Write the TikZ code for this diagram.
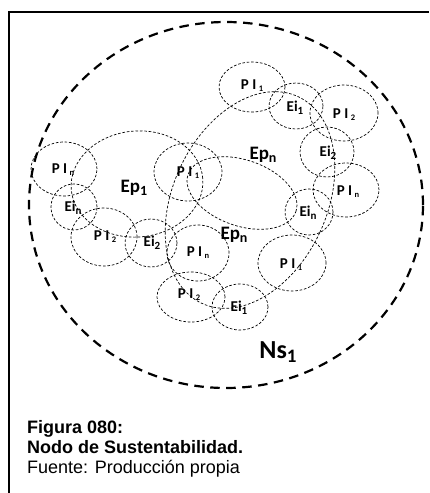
\documentclass[tikz,border=0pt]{standalone}
\usepackage{fontspec}
\setmainfont{Liberation Sans}
\newfontfamily\calib{Carlito}
\newcommand\psub[1]{\raisebox{-0.25ex}{\fontsize{8.5}{9}\selectfont #1}}
\newcommand\esub[1]{\raisebox{-0.35ex}{\fontsize{11}{12}\selectfont #1}}
\newcommand\plab[1]{P I\,\psub{#1}}
\newcommand\elab[1]{Ei\esub{#1}}
\begin{document}
\begin{tikzpicture}[x=1pt,y=-1pt,
  smallell/.style={draw, line width=0.7pt, dash pattern=on 2.6pt off 1.8pt},
  bigell/.style={draw, line width=2.2pt, dash pattern=on 9.5pt off 6.5pt},
  lbl/.style={font=\calib\bfseries\fontsize{15}{18}\selectfont, inner sep=0pt},
  eplbl/.style={font=\calib\bfseries\fontsize{19}{22}\selectfont, inner sep=0pt},
  captxt/.style={anchor=base west, inner sep=0pt, font=\fontsize{18}{20}\selectfont},
  capbold/.style={anchor=base west, inner sep=0pt, font=\bfseries\fontsize{18}{20}\selectfont}]
\useasboundingbox (0,0) rectangle (429,493);
% frame
\draw[line width=1.8pt] (9,493) -- (9,12) -- (429,12);
% big node circle
\draw[bigell] (226,205) ellipse [x radius=197pt, y radius=183pt];
% large ellipses
\draw[smallell, rotate around={5:(137,184)}] (137,184) ellipse [x radius=66pt, y radius=53pt];
\draw[smallell, rotate around={-19:(242,193)}] (242,193) ellipse [x radius=57pt, y radius=33pt];
\draw[smallell, rotate around={-25:(250,200)}] (250,200) ellipse [x radius=77pt, y radius=114pt];
% small ellipses
\draw[smallell] (252,87) ellipse [x radius=33pt, y radius=25pt];
\draw[smallell] (296,106) ellipse [x radius=27pt, y radius=23pt];
\draw[smallell] (344,113) ellipse [x radius=34pt, y radius=28pt];
\draw[smallell] (327,152) ellipse [x radius=27pt, y radius=25pt];
\draw[smallell] (346,190) ellipse [x radius=33pt, y radius=27pt];
\draw[smallell] (309,212) ellipse [x radius=24pt, y radius=23pt];
\draw[smallell] (292,263) ellipse [x radius=34pt, y radius=28pt];
\draw[smallell] (240,307) ellipse [x radius=28pt, y radius=23pt];
\draw[smallell] (191,297) ellipse [x radius=34pt, y radius=25pt];
\draw[smallell] (198,253) ellipse [x radius=31pt, y radius=28pt];
\draw[smallell] (151,243) ellipse [x radius=26pt, y radius=24pt];
\draw[smallell] (104,237) ellipse [x radius=33pt, y radius=29pt];
\draw[smallell] (74,207) ellipse [x radius=23pt, y radius=23pt];
\draw[smallell] (64,169) ellipse [x radius=33pt, y radius=27pt];
\draw[smallell] (188,172) ellipse [x radius=34pt, y radius=29pt];
% labels
\node[lbl] (pt1) at (252,86) {\plab{1}};
\node[lbl] (et1) at (295,108) {\elab{1}};
\node[lbl] (pt2) at (344,115) {\plab{2}};
\node[lbl] (er2) at (328,153) {\elab{2}};
\node[lbl] (prn) at (348,192) {\plab{n}};
\node[lbl] (ern) at (308,213) {\elab{n}};
\node[lbl] (pr1) at (291,265) {\plab{1}};
\node[lbl] (eb1) at (239,308) {\elab{1}};
\node[lbl] (pb2) at (189,295) {\plab{2}};
\node[lbl] (pmn) at (198,253) {\plab{n}};
\node[lbl] (em2) at (152,243) {\elab{2}};
\node[lbl] (pl2) at (105,237) {\plab{2}};
\node[lbl] (eln) at (73,208) {\elab{n}};
\node[lbl] (pln) at (63,170) {\plab{n}};
\node[lbl] (pm1) at (188,173) {\plab{1}};
\node[eplbl] (ep1) at (134,188) {Ep\raisebox{-0.35ex}{\fontsize{14}{15}\selectfont 1}};
\node[eplbl] (epa) at (263,155) {Ep\raisebox{-0.35ex}{\fontsize{14}{15}\selectfont n}};
\node[eplbl] (epb) at (234,235) {Ep\raisebox{-0.35ex}{\fontsize{14}{15}\selectfont n}};
\node[font=\calib\bfseries\fontsize{26}{30}\selectfont, inner sep=0pt] (ns) at (278,352) {Ns\raisebox{-0.35ex}{\fontsize{19}{20}\selectfont 1}};
% caption
\node[capbold] (c1) at (27,433) {Figura 080:};
\node[capbold] (c2) at (27,453) {Nodo de Sustentabilidad.};
\node[captxt] (c3) at (27,473) {Fuente: Producción propia};
\end{tikzpicture}
\end{document}
